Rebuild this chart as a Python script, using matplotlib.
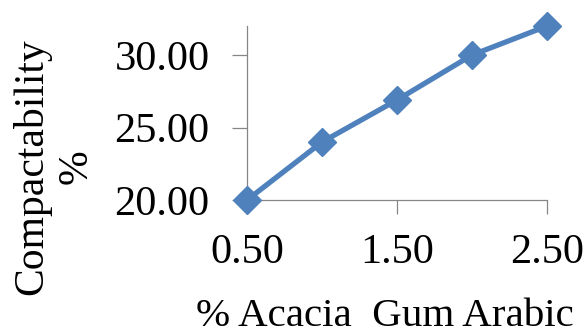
import matplotlib
matplotlib.use("Agg")
import matplotlib.pyplot as plt

# Compactability vs. acacia gum arabic content
gum_pct = [0.5, 1.0, 1.5, 2.0, 2.5]
compactability = [20.0, 24.0, 26.9, 30.0, 32.0]
x_ticks = [0.5, 1.5, 2.5]
y_ticks = [20, 25, 30]

plt.rcParams["font.family"] = ["Liberation Serif", "DejaVu Serif"]

fig = plt.figure(figsize=(5.85, 3.34), dpi=100)
ax = fig.add_axes([0.4222, 0.401, 0.5128, 0.521])

ax.plot(gum_pct, compactability, color="#4F81BD", linewidth=3.8,
        marker="D", markersize=14, markerfacecolor="#4F81BD",
        markeredgecolor="#4F81BD", solid_joinstyle="round", clip_on=False,
        zorder=3)

ax.set_xlim(0.5, 2.5)
ax.set_ylim(20, 32)
ax.set_xticks(x_ticks)
ax.set_yticks(y_ticks)
ax.set_xticklabels([f"{v:.2f}" for v in x_ticks])
ax.set_yticklabels([f"{v:.2f}" for v in y_ticks])

for side in ("top", "right"):
    ax.spines[side].set_visible(False)
for side in ("left", "bottom"):
    ax.spines[side].set_color("#868686")
    ax.spines[side].set_linewidth(0.9)

ax.tick_params(axis="both", colors="#868686", labelcolor="black",
               labelsize=30.5, width=0.9, direction="out")
ax.tick_params(axis="y", length=11, pad=16)
ax.tick_params(axis="x", length=10, pad=14)

fig.text(0.092, 0.50, "Compactability\n%", rotation=90, ha="center",
         va="center", fontsize=30, linespacing=1.2)
fig.text(0.658, 0.052, "% Acacia  Gum Arabic", ha="center", va="center",
         fontsize=29.5)

fig.savefig("out.png", dpi=100)
